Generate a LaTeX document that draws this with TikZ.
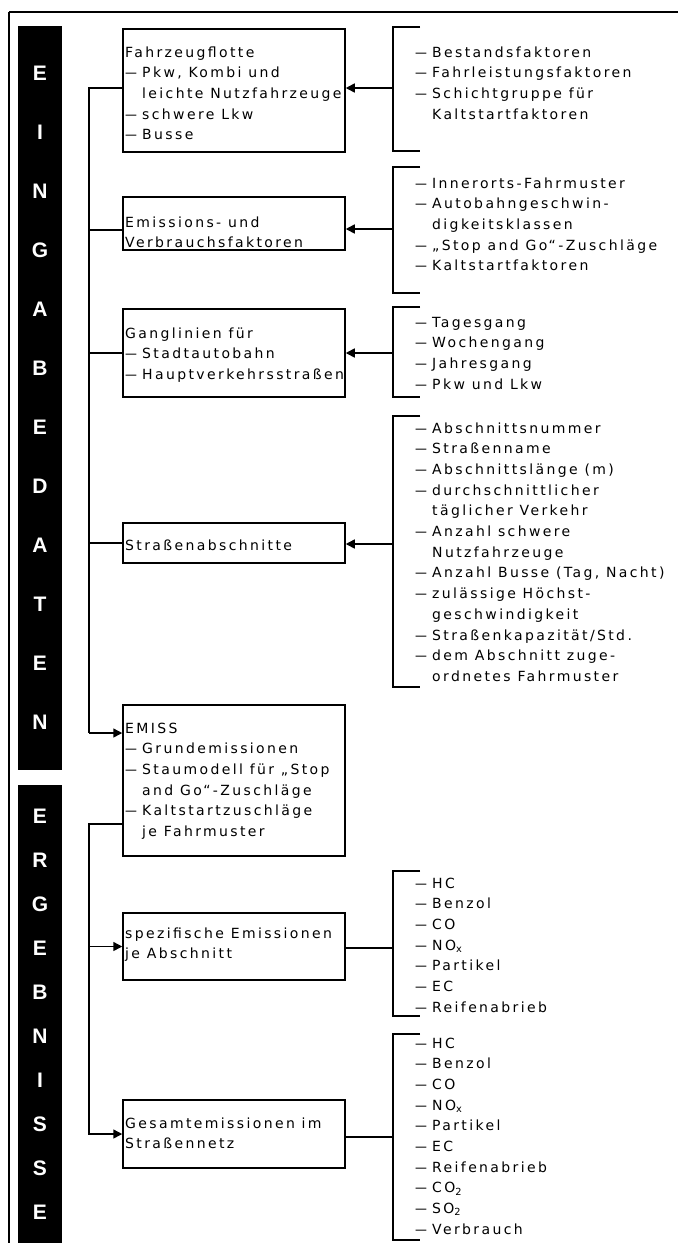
\documentclass[tikz,border=0pt]{standalone}
\usepackage{fontspec}
\setmainfont{DejaVu Sans}[LetterSpace=17]
\newfontfamily\balkenfont{Liberation Sans}
\usetikzlibrary{arrows.meta}

\newcommand{\strich}{\makebox[17pt][l]{\scalebox{0.85}[1]{—}}}
\newcommand{\einr}{\hspace*{17pt}}

\begin{document}
\begin{tikzpicture}[x=1pt,y=-1pt]

    \tikzset{
      linie/.style={line width=1.5pt},
      pfeil/.style={line width=1.5pt, -{Triangle[length=9pt,width=9pt]}},
      kasten/.style={draw, line width=1.5pt, minimum width=222pt, inner sep=0pt},
      txt/.style={anchor=base west, align=left, inner sep=0pt,
        font=\fontsize{14}{20.7}\selectfont},
      balken/.style={fill=black, text=white, inner sep=0pt, minimum width=44pt,
        align=center},
    }
    \useasboundingbox (0,0) rectangle (678,1243);
    \draw[line width=2pt] (9,12) -- (678,12);
    \draw[linie] (9,12) -- (9,1243);

    % Balken links
    \node[balken, minimum height=744pt,
      font=\balkenfont\bfseries\fontsize{21}{59}\selectfont] (eingabe) at (40,398)
      {E\\I\\N\\G\\A\\B\\E\\D\\A\\T\\E\\N};
    \node[balken, minimum height=458pt,
      font=\balkenfont\bfseries\fontsize{21}{44}\selectfont] (ergebnis) at (40,1014)
      {E\\R\\G\\E\\B\\N\\I\\S\\S\\E};

    % Kaesten
    \node[kasten, minimum height=123pt] (flotte) at (234,90.5) {};
    \node[kasten, minimum height=53pt] (faktoren) at (234,223.5) {};
    \node[kasten, minimum height=88pt] (ganglinien) at (234,353) {};
    \node[kasten, minimum height=40pt] (abschnitte) at (234,543) {};
    \node[kasten, minimum height=151pt] (emiss) at (234,780.5) {};
    \node[kasten, minimum height=67pt] (spezifisch) at (234,946.5) {};
    \node[kasten, minimum height=68pt] (gesamt) at (234,1134) {};

    % Texte (Grundlinie der letzten Zeile)
    \node[txt] (flotte-t) at (125,139.8) {Fahrzeugflotte\\\strich Pkw, Kombi und\\
      \einr leichte Nutzfahrzeuge\\\strich schwere Lkw\\\strich Busse};
    \node[txt] (faktoren-t) at (125,247.7) {Emissions- und\\Verbrauchsfaktoren};
    \node[txt] (ganglinien-t) at (125,379.4) {Ganglinien für\\\strich Stadtautobahn\\
      \strich Hauptverkehrsstraßen};
    \node[txt] (abschnitte-t) at (125,550) {Straßenabschnitte};
    \node[txt] (emiss-t) at (125,836.5) {EMISS\\\strich Grundemissionen\\
      \strich Staumodell für „Stop\\\einr and Go“-Zuschläge\\
      \strich Kaltstartzuschläge\\\einr je Fahrmuster};
    \node[txt] (spezifisch-t) at (125,958.7) {spezifische Emissionen\\je Abschnitt};
    \node[txt] (gesamt-t) at (125,1148.7) {Gesamtemissionen im\\Straßennetz};

    % Listen rechts
    \node[txt] (liste1) at (415,119.1) {\strich Bestandsfaktoren\\
      \strich Fahrleistungsfaktoren\\\strich Schichtgruppe für\\
      \einr Kaltstartfaktoren};
    \node[txt] (liste2) at (415,270.8) {\strich Innerorts-Fahrmuster\\
      \strich Autobahngeschwin-\\\einr digkeitsklassen\\
      \strich „Stop and Go“-Zuschläge\\\strich Kaltstartfaktoren};
    \node[txt] (liste3) at (415,389.1) {\strich Tagesgang\\\strich Wochengang\\
      \strich Jahresgang\\\strich Pkw und Lkw};
    \node[txt] (liste4) at (415,681.4) {\strich Abschnittsnummer\\\strich Straßenname\\
      \strich Abschnittslänge (m)\\\strich durchschnittlicher\\
      \einr täglicher Verkehr\\\strich Anzahl schwere\\\einr Nutzfahrzeuge\\
      \strich Anzahl Busse (Tag, Nacht)\\\strich zulässige Höchst-\\
      \einr geschwindigkeit\\\strich Straßenkapazität/Std.\\
      \strich dem Abschnitt zuge-\\\einr ordnetes Fahrmuster};
    \node[txt] (liste5) at (415,1012.2) {\strich HC\\\strich Benzol\\\strich CO\\
      \strich NO\textsubscript{x}\\\strich Partikel\\\strich EC\\
      \strich Reifenabrieb};
    \node[txt] (liste6) at (415,1234.3) {\strich HC\\\strich Benzol\\\strich CO\\
      \strich NO\textsubscript{x}\\\strich Partikel\\\strich EC\\
      \strich Reifenabrieb\\\strich CO\textsubscript{2}\\\strich SO\textsubscript{2}\\
      \strich Verbrauch};

    % Klammern
    \foreach \oben/\unten in {27/151, 167/293, 307/397, 416/687, 871/1016, 1034/1240}
      \draw[linie] (420,\oben) -- (393,\oben) -- (393,\unten) -- (420,\unten);

    \coordinate (k1) at (393,88);
    \coordinate (k2) at (393,229);
    \coordinate (k3) at (393,353);
    \coordinate (k4) at (393,544);
    \coordinate (k5) at (393,948);
    \coordinate (k6) at (393,1137);
    \draw[pfeil] (k1) -- (k1 -| flotte.east);
    \draw[pfeil] (k2) -- (k2 -| faktoren.east);
    \draw[pfeil] (k3) -- (k3 -| ganglinien.east);
    \draw[pfeil] (k4) -- (k4 -| abschnitte.east);
    \draw[linie] (k5) -- (k5 -| spezifisch.east);
    \draw[linie] (k6) -- (k6 -| gesamt.east);

    % Stamm links
    \coordinate (s1) at (89,88);
    \coordinate (s2) at (89,230);
    \coordinate (s3) at (89,733);
    \coordinate (s4) at (89,824);
    \draw[linie] (s1 -| flotte.west) -- (s1) -- (s3);
    \draw[linie] (s2) -- (s2 -| faktoren.west);
    \draw[linie] (ganglinien.west -| s1) -- (ganglinien.west);
    \draw[linie] (abschnitte.west -| s1) -- (abschnitte.west);
    \draw[pfeil] (s3) -- (s3 -| emiss.west);
    \draw[pfeil] (s4 -| emiss.west) -- (s4) |- (gesamt.west);
    \draw[pfeil] (spezifisch.west -| s4) -- (spezifisch.west);

\end{tikzpicture}
\end{document}
